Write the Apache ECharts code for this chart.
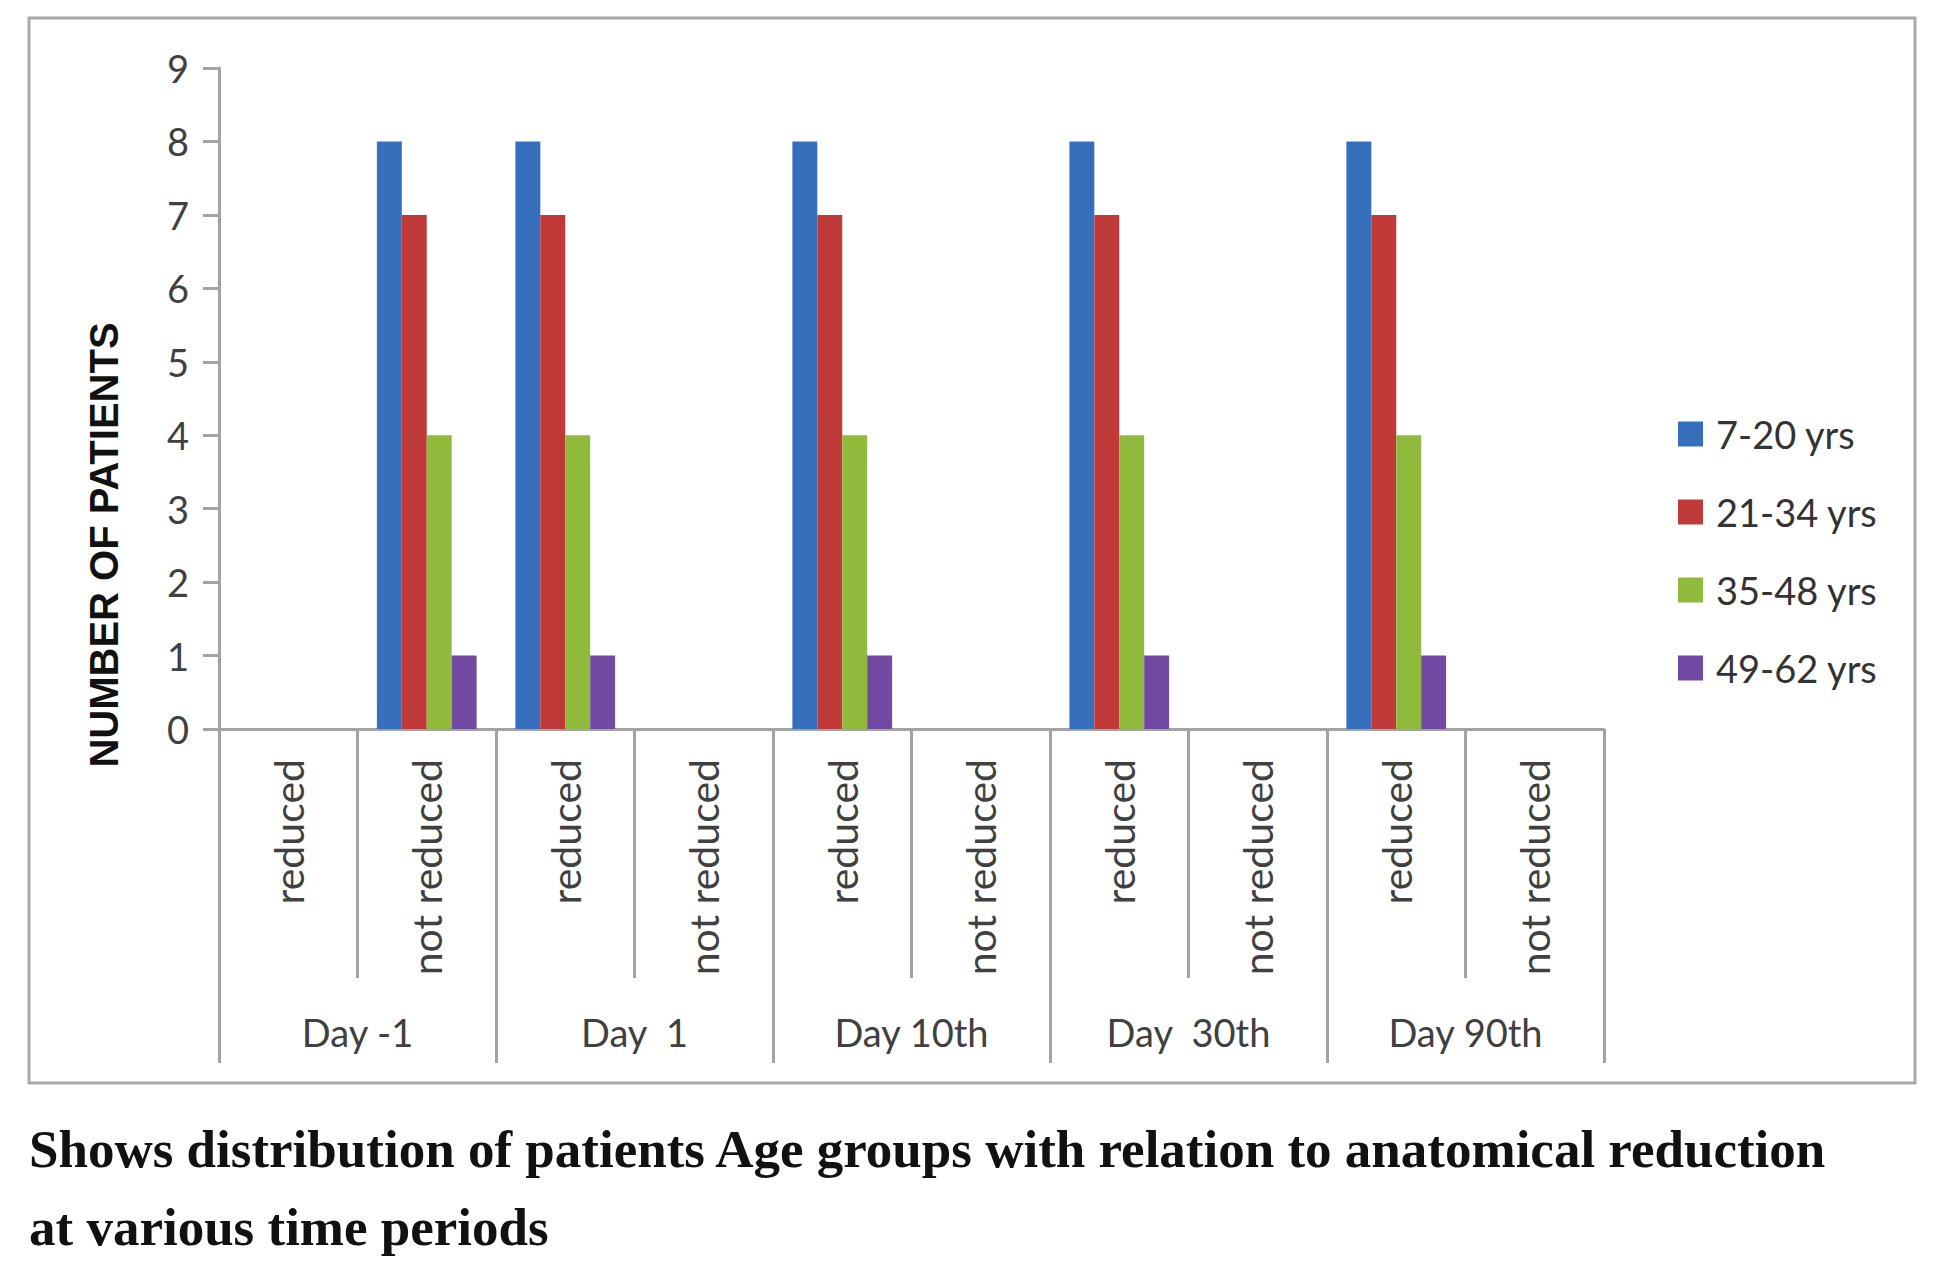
<!DOCTYPE html>
<html>
<head>
<meta charset="utf-8">
<title>Age groups vs anatomical reduction</title>
<script src="https://cdn.jsdelivr.net/npm/echarts@6/dist/echarts.min.js"></script>
<style>
  html, body { margin: 0; padding: 0; background: #fff; }
  #chart { width: 1941px; height: 1277px; }
</style>
</head>
<body>
<div id="chart"></div>
<script>
var subCategories = ['reduced', 'not reduced', 'reduced', 'not reduced', 'reduced', 'not reduced', 'reduced', 'not reduced', 'reduced', 'not reduced']
var groupCategories = ['Day -1', 'Day  1', 'Day 10th', 'Day  30th', 'Day 90th']
var seriesNames = ['7-20 yrs', '21-34 yrs', '35-48 yrs', '49-62 yrs']
var age7to20 = [0, 8, 8, 0, 8, 0, 8, 0, 8, 0]
var age21to34 = [0, 7, 7, 0, 7, 0, 7, 0, 7, 0]
var age35to48 = [0, 4, 4, 0, 4, 0, 4, 0, 4, 0]
var age49to62 = [0, 1, 1, 0, 1, 0, 1, 0, 1, 0]
var yTicks = [0, 1, 2, 3, 4, 5, 6, 7, 8, 9]

var chart = echarts.init(document.getElementById('chart'), null, { renderer: 'svg' })
var font = 'Lato, "Liberation Sans", sans-serif'
var gray = '#a3a3a3'

function barSeries (name, values) {
  return {
    name: name,
    type: 'bar',
    data: values,
    barGap: 0,
    barCategoryGap: '28%'
  }
}

var option = {
  animation: false,
  color: ['#3670bd', '#c13a3a', '#8fba3c', '#7149a3'],
  title: {
    text: 'Shows distribution of patients Age groups with relation to anatomical reduction\nat various time periods',
    left: 24,
    top: 1105,
    textStyle: {
      fontFamily: '"Liberation Serif", serif',
      fontWeight: 'bold',
      fontSize: 53,
      lineHeight: 78,
      color: '#111'
    }
  },
  graphic: [
    {
      type: 'rect',
      shape: { x: 29, y: 18, width: 1886, height: 1065 },
      style: { fill: 'none', stroke: '#a8a8a8', lineWidth: 3 },
      silent: true
    },
    {
      // y axis title sits lower than the axis middle in the original
      type: 'text',
      x: 104,
      y: 545,
      rotation: Math.PI / 2,
      style: {
        text: 'NUMBER OF PATIENTS',
        fontFamily: '"Liberation Sans", sans-serif',
        fontWeight: 'bold',
        fontSize: 40,
        fill: '#111',
        align: 'center',
        verticalAlign: 'middle'
      }
    }
  ],
  legend: {
    orient: 'vertical',
    left: 1673,
    top: 410,
    itemWidth: 25,
    itemHeight: 25,
    itemGap: 40,
    icon: 'rect',
    data: seriesNames,
    textStyle: {
      fontFamily: font,
      fontSize: 38,
      color: '#333',
      padding: [0, 0, 0, 8]
    }
  },
  grid: {
    left: 219,
    right: 337,
    top: 68,
    bottom: 548
  },
  xAxis: [
    {
      type: 'category',
      data: subCategories,
      position: 'bottom',
      axisLine: { lineStyle: { color: gray, width: 3 } },
      axisTick: { show: true, length: 249, lineStyle: { color: gray, width: 3 } },
      axisLabel: {
        rotate: 90,
        margin: 30,
        fontFamily: font,
        fontSize: 41,
        color: '#404040',
        interval: 0
      },
      splitLine: { show: false }
    },
    {
      type: 'category',
      data: groupCategories,
      position: 'bottom',
      offset: 0,
      axisLine: { show: false },
      axisTick: { show: true, length: 334, lineStyle: { color: gray, width: 3 } },
      axisLabel: {
        margin: 284,
        fontFamily: font,
        fontSize: 38,
        color: '#404040',
        interval: 0
      },
      splitLine: { show: false }
    }
  ],
  yAxis: {
    type: 'value',
    min: yTicks[0],
    max: yTicks[yTicks.length - 1],
    interval: 1,
    axisLine: { show: true, lineStyle: { color: gray, width: 3 } },
    axisTick: { show: true, length: 16, lineStyle: { color: gray, width: 3 } },
    axisLabel: {
      margin: 30,
      fontFamily: font,
      fontSize: 38,
      color: '#404040'
    },
    splitLine: { show: false }
  },
  series: [
    barSeries(seriesNames[0], age7to20),
    barSeries(seriesNames[1], age21to34),
    barSeries(seriesNames[2], age35to48),
    barSeries(seriesNames[3], age49to62)
  ]
}
chart.setOption(option)
</script>
</body>
</html>
